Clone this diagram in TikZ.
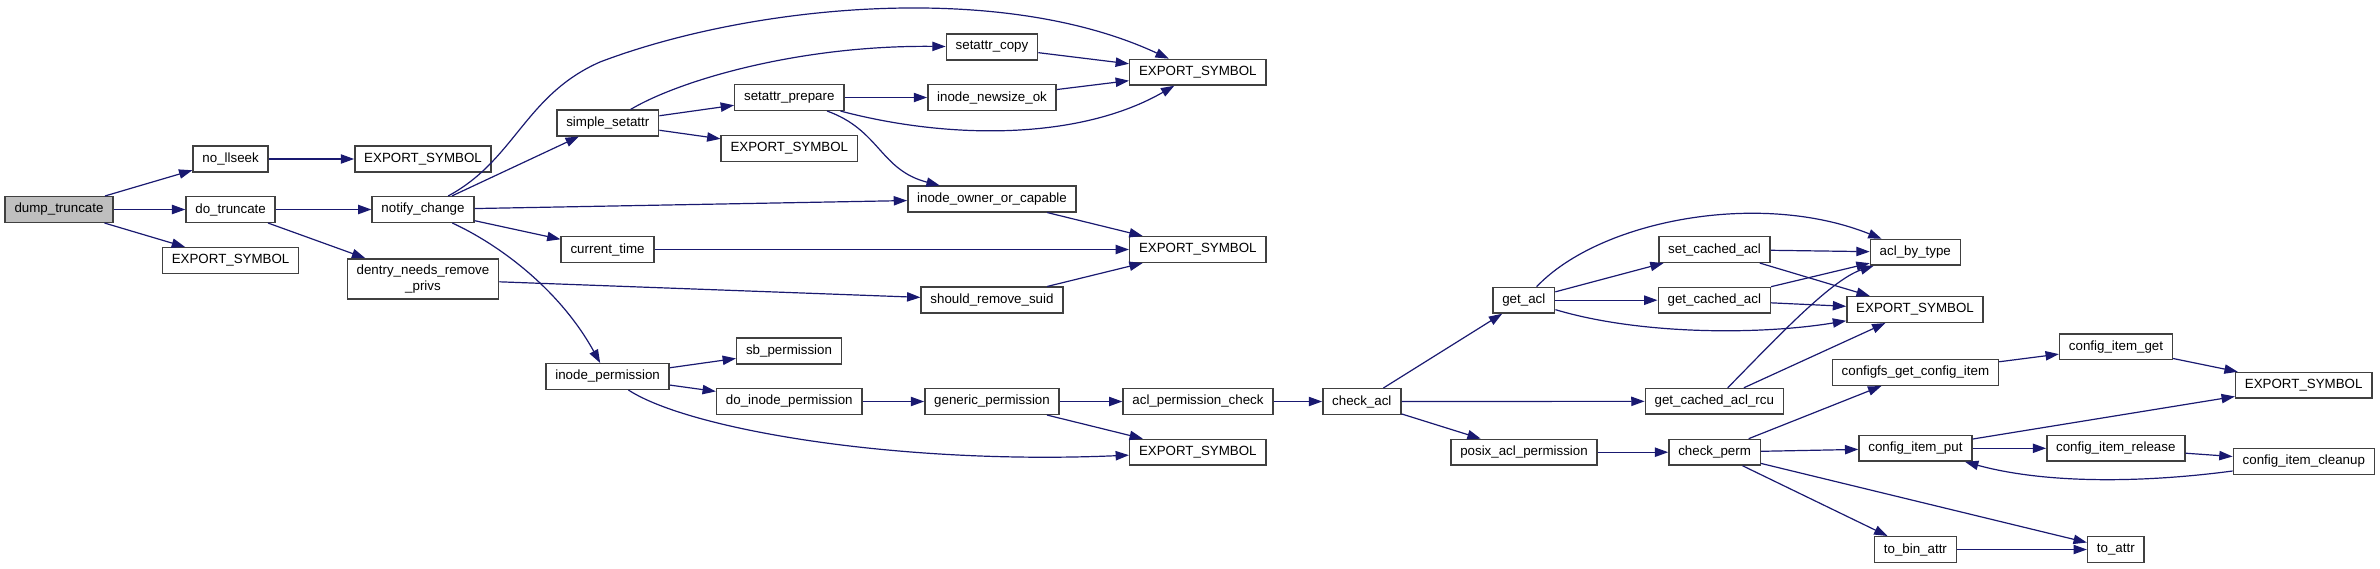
\documentclass[tikz,border=0pt]{standalone}
\usepackage{fontspec}
\setmainfont{Liberation Sans}
\usetikzlibrary{arrows.meta}
\definecolor{callblue}{HTML}{191970}
\definecolor{rootgray}{HTML}{BFBFBF}

\begin{document}
\begin{tikzpicture}[x=0.75pt, y=-0.75pt,
        fn/.style={draw=black!75, line width=1.1pt, minimum height=19.2pt, inner xsep=7pt, inner ysep=1pt, font=\fontsize{10}{12}\selectfont},
        root/.style={fn, fill=rootgray},
        call/.style={-{Triangle[length=10pt, width=7pt]}, draw=callblue, line width=0.9pt}]

        \useasboundingbox (0, 0) rectangle (2380, 568);

        \node (0-1) at (59, 209.5) [root] {dump\_truncate};

        \node (1-1) at (230.6, 159) [fn] {no\_llseek};
        \node (1-2) at (230.6, 209.5) [fn] {do\_truncate};
        \node (1-3) at (230.6, 260.5) [fn] {EXPORT\_SYMBOL};

        \node (2-1) at (423, 159) [fn] {EXPORT\_SYMBOL};
        \node (2-2) at (423, 209.5) [fn] {notify\_change};
        \node (2-3) at (423, 279) [fn, minimum height=30.2pt, align=center] {dentry\_needs\_remove\\\_privs};

        \node (3-1) at (607.8, 123) [fn] {simple\_setattr};
        \node (3-2) at (607.6, 249.5) [fn] {current\_time};
        \node (3-3) at (607.6, 376.5) [fn] {inode\_permission};

        \node (4-1) at (789.3, 97.5) [fn] {setattr\_prepare};
        \node (4-2) at (789.3, 148.5) [fn] {EXPORT\_SYMBOL};
        \node (4-3) at (789, 351) [fn] {sb\_permission};
        \node (4-4) at (789.3, 401.5) [fn] {do\_inode\_permission};

        \node (5-1) at (992, 47) [fn] {setattr\_copy};
        \node (5-2) at (992, 97.5) [fn] {inode\_newsize\_ok};
        \node (5-3) at (992, 199) [fn] {inode\_owner\_or\_capable};
        \node (5-4) at (992, 300) [fn] {should\_remove\_suid};
        \node (5-5) at (992, 401.5) [fn] {generic\_permission};

        \node (6-1) at (1197.8, 72.2) [fn] {EXPORT\_SYMBOL};
        \node (6-2) at (1197.8, 249.5) [fn] {EXPORT\_SYMBOL};
        \node (6-3) at (1198, 401.5) [fn] {acl\_permission\_check};
        \node (6-4) at (1197.8, 452.2) [fn] {EXPORT\_SYMBOL};

        \node (7-1) at (1361.8, 401.5) [fn] {check\_acl};

        \node (8-1) at (1523.8, 300.2) [fn] {get\_acl};
        \node (8-2) at (1524, 452.2) [fn] {posix\_acl\_permission};

        \node (9-1) at (1714.5, 249.5) [fn] {set\_cached\_acl};
        \node (9-2) at (1714.3, 300.2) [fn] {get\_cached\_acl};
        \node (9-3) at (1714.3, 401.3) [fn] {get\_cached\_acl\_rcu};
        \node (9-4) at (1714.6, 452.2) [fn] {check\_perm};

        \node (10-1) at (1915.3, 252.3) [fn] {acl\_by\_type};
        \node (10-2) at (1915, 309.5) [fn] {EXPORT\_SYMBOL};
        \node (10-3) at (1915.4, 372.5) [fn] {configfs\_get\_config\_item};
        \node (10-4) at (1915.4, 448.3) [fn] {config\_item\_put};
        \node (10-5) at (1915.4, 549.5) [fn] {to\_bin\_attr};

        \node (11-1) at (2116, 346.8) [fn] {config\_item\_get};
        \node (11-2) at (2115.8, 448.3) [fn] {config\_item\_release};
        \node (11-3) at (2115.8, 549.5) [fn] {to\_attr};

        \node (12-1) at (2303.7, 385.3) [fn] {EXPORT\_SYMBOL};
        \node (12-2) at (2303.8, 461.5) [fn] {config\_item\_cleanup};

        \draw[call] (0-1) -- (1-1);
        \draw[call] (0-1) -- (1-2);
        \draw[call] (0-1) -- (1-3);

        \draw[call] (1-1) -- (2-1);
        \draw[call] (1-2) -- (2-2);
        \draw[call] (1-2) -- (2-3);

        \draw[call] (2-2) .. controls (515, 160) and (525, 95) .. (600, 62) .. controls (750, 5) and (1000, -20) .. (6-1);
        \draw[call] (2-2) -- (3-1);
        \draw[call] (2-2) -- (5-3);
        \draw[call] (2-2) -- (3-2);
        \draw[call] (2-2) .. controls (500, 245) and (560, 290) .. (3-3);
        \draw[call] (2-3) -- (5-4);

        \draw[call] (3-1) .. controls (680, 80) and (800, 45) .. (5-1);
        \draw[call] (3-1) -- (4-1);
        \draw[call] (3-1) -- (4-2);
        \draw[call] (3-2) -- (6-2);
        \draw[call] (3-3) -- (4-3);
        \draw[call] (3-3) -- (4-4);
        \draw[call] (3-3) .. controls (690, 430) and (900, 465) .. (6-4);

        \draw[call] (4-1) -- (5-2);
        \draw[call] (4-1) .. controls (950, 140) and (1080, 140) .. (6-1);
        \draw[call] (4-1) .. controls (880, 130) and (880, 170) .. (5-3);
        \draw[call] (4-4) -- (5-5);

        \draw[call] (5-1) -- (6-1);
        \draw[call] (5-2) -- (6-1);
        \draw[call] (5-3) -- (6-2);
        \draw[call] (5-4) -- (6-2);
        \draw[call] (5-5) -- (6-3);
        \draw[call] (5-5) -- (6-4);

        \draw[call] (6-3) -- (7-1);

        \draw[call] (7-1) -- (8-1);
        \draw[call] (7-1) -- (9-3);
        \draw[call] (7-1) -- (8-2);

        \draw[call] (8-1) .. controls (1600, 220) and (1760, 190) .. (10-1);
        \draw[call] (8-1) -- (9-1);
        \draw[call] (8-1) -- (9-2);
        \draw[call] (8-1) .. controls (1640, 335) and (1760, 335) .. (10-2);
        \draw[call] (8-2) -- (9-4);

        \draw[call] (9-1) -- (10-1);
        \draw[call] (9-1) -- (10-2);
        \draw[call] (9-2) -- (10-1);
        \draw[call] (9-2) -- (10-2);
        \draw[call] (9-3) .. controls (1770, 345) and (1830, 280) .. (10-1);
        \draw[call] (9-3) -- (10-2);
        \draw[call] (9-4) -- (10-3);
        \draw[call] (9-4) -- (10-4);
        \draw[call] (9-4) -- (10-5);
        \draw[call] (9-4) -- (11-3);

        \draw[call] (10-3) -- (11-1);
        \draw[call] (10-4) -- (12-1);
        \draw[call] (10-4) -- (11-2);
        \draw[call] (10-5) -- (11-3);

        \draw[call] (11-1) -- (12-1);
        \draw[call] (11-2) -- (12-2);

        \draw[call] (12-2) .. controls (2150, 482) and (2050, 485) .. (10-4);

\end{tikzpicture}
\end{document}
